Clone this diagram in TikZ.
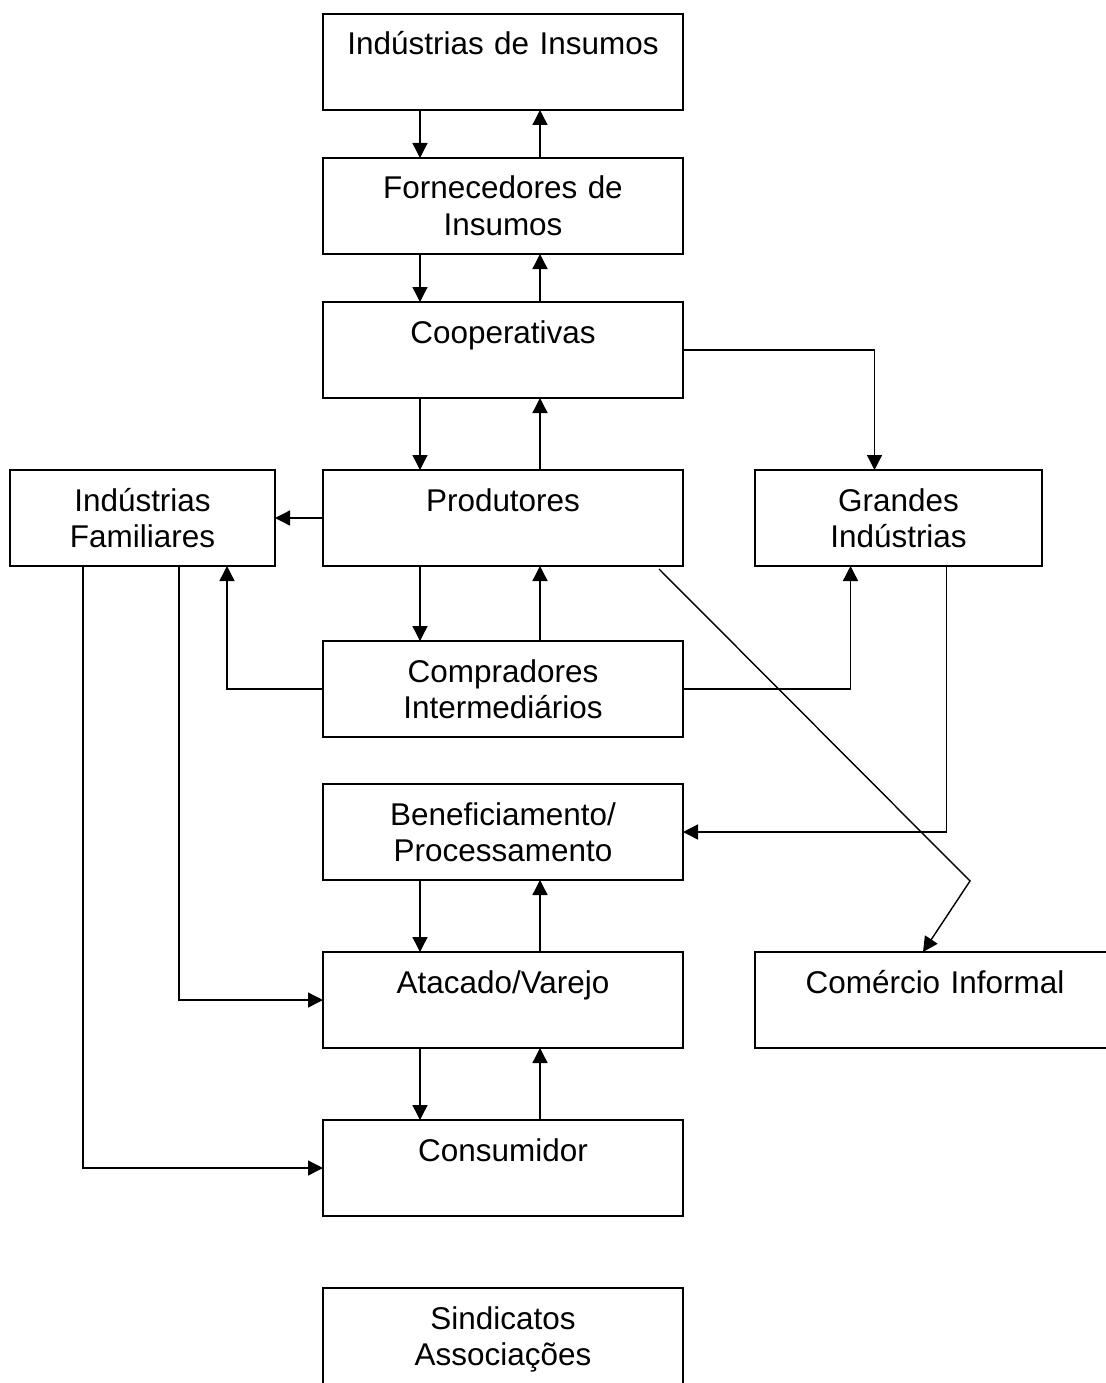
\documentclass[tikz,border=0pt]{standalone}
\usepackage{fontspec}
\setmainfont{Liberation Sans}
\usepackage{tikz}
\usetikzlibrary{arrows.meta, positioning}
\tikzstyle{box} = [rectangle, draw=black, line width=1pt, text width=7.2cm, inner sep=0pt, outer sep=0pt, text height=0.82cm, text depth=1.1cm, align=center, font=\fontsize{17.9pt}{20.7pt}\selectfont]
\tikzstyle{arrow} = [line width=0.8pt, ->, >={Triangle[length=0.3cm, width=0.3cm]}]

\begin{document}
\begin{tikzpicture}[node distance=0.96cm]
    \useasboundingbox (0,0) rectangle (22.1,-27.66);
    \node[box] (ins) at (10.06,-1.24) {Indústrias de Insumos};
    \node[box, below=of ins] (forn) {Fornecedores de\\Insumos};
    \node[box, below=of forn] (coop) {Cooperativas};
    \node[box, below=1.44cm of coop] (prod) {Produtores};
    \node[box, below=1.5cm of prod] (comp) {Compradores\\Intermediários};
    \node[box, below=0.94cm of comp] (benef) {Beneficiamento/\\Processamento};
    \node[box, below=1.44cm of benef] (atac) {Atacado/Varejo};
    \node[box, below=1.44cm of atac] (cons) {Consumidor};
    \node[box, below=1.44cm of cons] (sind) {Sindicatos\\Associações};
    \node[box, text width=5.3cm, left=of prod] (indfam) {Indústrias\\Familiares};
    \node[box, text width=5.74cm, right=1.44cm of prod] (grandes) {Grandes\\Indústrias};
    \node[box, right=1.44cm of atac] (informal) {Comércio Informal};
    \coordinate (kink) at (19.4,-17.62);

    \draw[arrow] ([xshift=-1.66cm]ins.south) -- ([xshift=-1.66cm]forn.north);
    \draw[arrow] ([xshift=0.74cm]forn.north) -- ([xshift=0.74cm]ins.south);
    \draw[arrow] ([xshift=-1.66cm]forn.south) -- ([xshift=-1.66cm]coop.north);
    \draw[arrow] ([xshift=0.74cm]coop.north) -- ([xshift=0.74cm]forn.south);
    \draw[arrow] ([xshift=-1.66cm]coop.south) -- ([xshift=-1.66cm]prod.north);
    \draw[arrow] ([xshift=0.74cm]prod.north) -- ([xshift=0.74cm]coop.south);
    \draw[arrow] ([xshift=-1.66cm]prod.south) -- ([xshift=-1.66cm]comp.north);
    \draw[arrow] ([xshift=0.74cm]comp.north) -- ([xshift=0.74cm]prod.south);
    \draw[arrow] ([xshift=-1.66cm]benef.south) -- ([xshift=-1.66cm]atac.north);
    \draw[arrow] ([xshift=0.74cm]atac.north) -- ([xshift=0.74cm]benef.south);
    \draw[arrow] ([xshift=-1.66cm]atac.south) -- ([xshift=-1.66cm]cons.north);
    \draw[arrow] ([xshift=0.74cm]cons.north) -- ([xshift=0.74cm]atac.south);

    \draw[arrow] (coop.east) -| ([xshift=-0.48cm]grandes.north);
    \draw[arrow] (prod.west) -- (indfam.east);
    \draw[arrow] (comp.west) -| ([xshift=1.69cm]indfam.south);
    \draw[arrow] (comp.east) -| ([xshift=-0.96cm]grandes.south);
    \draw[arrow] ([xshift=0.96cm]grandes.south) |- (benef.east);
    \draw[arrow] ([xshift=0.73cm]indfam.south) |- (atac.west);
    \draw[arrow] ([xshift=-1.19cm]indfam.south) |- (cons.west);
    \draw[arrow] ([xshift=3.12cm,yshift=-0.06cm]prod.south) -- (kink) -- ([xshift=-0.24cm]informal.north);
\end{tikzpicture}
\end{document}
